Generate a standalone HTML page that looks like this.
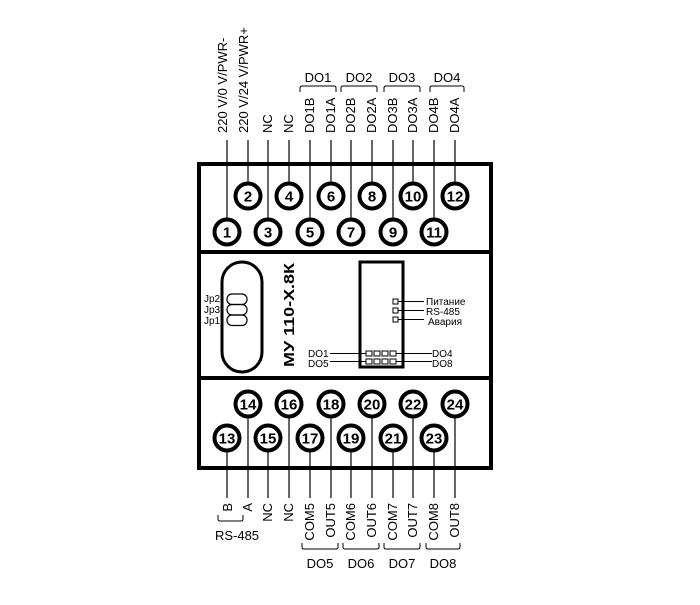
<!DOCTYPE html>
<html><head><meta charset="utf-8"><style>
html,body{margin:0;padding:0;background:#fff}
svg text{font-family:"Liberation Sans Narrow","Liberation Sans",sans-serif;fill:#000}
</style></head><body>
<svg width="700" height="600" viewBox="0 0 700 600" xmlns="http://www.w3.org/2000/svg">
<g stroke="#000" fill="none">
<rect x="199" y="164" width="292" height="304" stroke-width="4"/>
<line x1="199" y1="252" x2="491" y2="252" stroke-width="4"/>
<line x1="199" y1="378" x2="491" y2="378" stroke-width="4"/>
<g stroke-width="1.2">
<line x1="227" y1="140" x2="227" y2="219"/>
<line x1="248" y1="140" x2="248" y2="183"/>
<line x1="268" y1="140" x2="268" y2="219"/>
<line x1="289" y1="140" x2="289" y2="183"/>
<line x1="310" y1="140" x2="310" y2="219"/>
<line x1="331" y1="140" x2="331" y2="183"/>
<line x1="351" y1="140" x2="351" y2="219"/>
<line x1="372" y1="140" x2="372" y2="183"/>
<line x1="393" y1="140" x2="393" y2="219"/>
<line x1="413" y1="140" x2="413" y2="183"/>
<line x1="434" y1="140" x2="434" y2="219"/>
<line x1="455" y1="140" x2="455" y2="183"/>
<line x1="227" y1="451" x2="227" y2="498"/>
<line x1="248" y1="417" x2="248" y2="498"/>
<line x1="268" y1="451" x2="268" y2="498"/>
<line x1="289" y1="417" x2="289" y2="498"/>
<line x1="310" y1="451" x2="310" y2="498"/>
<line x1="331" y1="417" x2="331" y2="498"/>
<line x1="351" y1="451" x2="351" y2="498"/>
<line x1="372" y1="417" x2="372" y2="498"/>
<line x1="393" y1="451" x2="393" y2="498"/>
<line x1="413" y1="417" x2="413" y2="498"/>
<line x1="434" y1="451" x2="434" y2="498"/>
<line x1="455" y1="417" x2="455" y2="498"/>
</g>
<g stroke-width="1">
<path d="M300 92 V88 Q300 86 302 86 H334 Q336 86 336 88 V92"/>
<path d="M341 92 V88 Q341 86 343 86 H375 Q377 86 377 88 V92"/>
<path d="M384 92 V88 Q384 86 386 86 H418 Q420 86 420 88 V92"/>
<path d="M430 92 V88 Q430 86 432 86 H462 Q464 86 464 88 V92"/>
<path d="M218 515 V519 Q218 521 220 521 H241 Q243 521 243 519 V515"/>
<path d="M302 543 V547 Q302 549 304 549 H336 Q338 549 338 547 V543"/>
<path d="M343 543 V547 Q343 549 345 549 H377 Q379 549 379 547 V543"/>
<path d="M384 543 V547 Q384 549 386 549 H418 Q420 549 420 547 V543"/>
<path d="M426 543 V547 Q426 549 428 549 H458 Q460 549 460 547 V543"/>
</g>
<g stroke-width="4" fill="#fff">
<circle cx="227" cy="232" r="12.5"/><circle cx="268" cy="232" r="12.5"/><circle cx="310" cy="232" r="12.5"/>
<circle cx="351" cy="232" r="12.5"/><circle cx="393" cy="232" r="12.5"/><circle cx="434" cy="232" r="12.5"/>
<circle cx="248" cy="196" r="12.5"/><circle cx="289" cy="196" r="12.5"/><circle cx="331" cy="196" r="12.5"/>
<circle cx="372" cy="196" r="12.5"/><circle cx="413" cy="196" r="12.5"/><circle cx="455" cy="196" r="12.5"/>
<circle cx="227" cy="438" r="12.5"/><circle cx="268" cy="438" r="12.5"/><circle cx="310" cy="438" r="12.5"/>
<circle cx="351" cy="438" r="12.5"/><circle cx="393" cy="438" r="12.5"/><circle cx="434" cy="438" r="12.5"/>
<circle cx="248" cy="404" r="12.5"/><circle cx="289" cy="404" r="12.5"/><circle cx="331" cy="404" r="12.5"/>
<circle cx="372" cy="404" r="12.5"/><circle cx="413" cy="404" r="12.5"/><circle cx="455" cy="404" r="12.5"/>
</g>
<rect x="222" y="262" width="40" height="110" rx="20" stroke-width="3"/>
<g stroke-width="1.2">
<rect x="227" y="294" width="20" height="10.5" rx="5"/>
<rect x="227" y="304.5" width="20" height="10.5" rx="5"/>
<rect x="227" y="315" width="20" height="10.5" rx="5"/>
</g>
<rect x="360" y="262" width="43" height="105" stroke-width="3"/>
<g stroke-width="1">
<rect x="393" y="299" width="5" height="5"/><rect x="393" y="308" width="5" height="5"/><rect x="393" y="317" width="5" height="5"/>
<line x1="398" y1="301.5" x2="424" y2="301.5"/><line x1="398" y1="310.5" x2="424" y2="310.5"/><line x1="398" y1="319.5" x2="424" y2="319.5"/>
<rect x="366" y="351" width="6" height="5"/><rect x="374" y="351" width="6" height="5"/><rect x="382" y="351" width="6" height="5"/><rect x="390" y="351" width="6" height="5"/>
<rect x="366" y="359" width="6" height="5"/><rect x="374" y="359" width="6" height="5"/><rect x="382" y="359" width="6" height="5"/><rect x="390" y="359" width="6" height="5"/>
<line x1="330" y1="353.5" x2="366" y2="353.5"/><line x1="330" y1="361.5" x2="366" y2="361.5"/>
<line x1="396" y1="353.5" x2="432" y2="353.5"/><line x1="396" y1="361.5" x2="432" y2="361.5"/>
</g>
</g>
<g font-size="15" font-weight="bold" text-anchor="middle">
<text x="227" y="237.5">1</text><text x="268" y="237.5">3</text><text x="310" y="237.5">5</text>
<text x="351" y="237.5">7</text><text x="393" y="237.5">9</text><text x="434" y="237.5">11</text>
<text x="248" y="201.5">2</text><text x="289" y="201.5">4</text><text x="331" y="201.5">6</text>
<text x="372" y="201.5">8</text><text x="413" y="201.5">10</text><text x="455" y="201.5">12</text>
<text x="227" y="443.5">13</text><text x="268" y="443.5">15</text><text x="310" y="443.5">17</text>
<text x="351" y="443.5">19</text><text x="393" y="443.5">21</text><text x="434" y="443.5">23</text>
<text x="248" y="409.5">14</text><text x="289" y="409.5">16</text><text x="331" y="409.5">18</text>
<text x="372" y="409.5">20</text><text x="413" y="409.5">22</text><text x="455" y="409.5">24</text>
</g>
<g font-size="13">
<text transform="translate(227,133) rotate(-90)">220 V/0 V/PWR-</text>
<text transform="translate(248,133) rotate(-90)">220 V/24 V/PWR+</text>
<text transform="translate(272,133) rotate(-90)">NC</text>
<text transform="translate(293,133) rotate(-90)">NC</text>
<text transform="translate(314,133) rotate(-90)">DO1B</text>
<text transform="translate(335,133) rotate(-90)">DO1A</text>
<text transform="translate(355,133) rotate(-90)">DO2B</text>
<text transform="translate(376,133) rotate(-90)">DO2A</text>
<text transform="translate(397,133) rotate(-90)">DO3B</text>
<text transform="translate(417,133) rotate(-90)">DO3A</text>
<text transform="translate(438,133) rotate(-90)">DO4B</text>
<text transform="translate(459,133) rotate(-90)">DO4A</text>
</g>
<g font-size="13" text-anchor="middle">
<text x="318" y="82">DO1</text><text x="359" y="82">DO2</text><text x="402" y="82">DO3</text><text x="447" y="82">DO4</text>
<text x="320" y="568">DO5</text><text x="361" y="568">DO6</text><text x="402" y="568">DO7</text><text x="443" y="568">DO8</text>
<text x="237" y="540">RS-485</text>
</g>
<g font-size="13" text-anchor="end">
<text transform="translate(232,503) rotate(-90)">B</text>
<text transform="translate(252,503) rotate(-90)">A</text>
<text transform="translate(272,503) rotate(-90)">NC</text>
<text transform="translate(293,503) rotate(-90)">NC</text>
<text transform="translate(314,503) rotate(-90)">COM5</text>
<text transform="translate(335,503) rotate(-90)">OUT5</text>
<text transform="translate(355,503) rotate(-90)">COM6</text>
<text transform="translate(376,503) rotate(-90)">OUT6</text>
<text transform="translate(397,503) rotate(-90)">COM7</text>
<text transform="translate(417,503) rotate(-90)">OUT7</text>
<text transform="translate(438,503) rotate(-90)">COM8</text>
<text transform="translate(459,503) rotate(-90)">OUT8</text>
</g>
<g font-size="10">
<text x="204" y="302">Jp2</text><text x="204" y="313">Jp3</text><text x="204" y="324">Jp1</text>
<text x="426" y="305">Питание</text><text x="426" y="315">RS-485</text><text x="428" y="325">Авария</text>
<text x="308" y="357">DO1</text><text x="308" y="367">DO5</text>
<text x="432" y="357">DO4</text><text x="432" y="367">DO8</text>
</g>
<text transform="translate(294,367) rotate(-90)" font-size="15" font-weight="bold" font-family="Liberation Sans, sans-serif" textLength="104" lengthAdjust="spacingAndGlyphs">МУ 110-Х.8К</text>
</svg>
</body></html>
